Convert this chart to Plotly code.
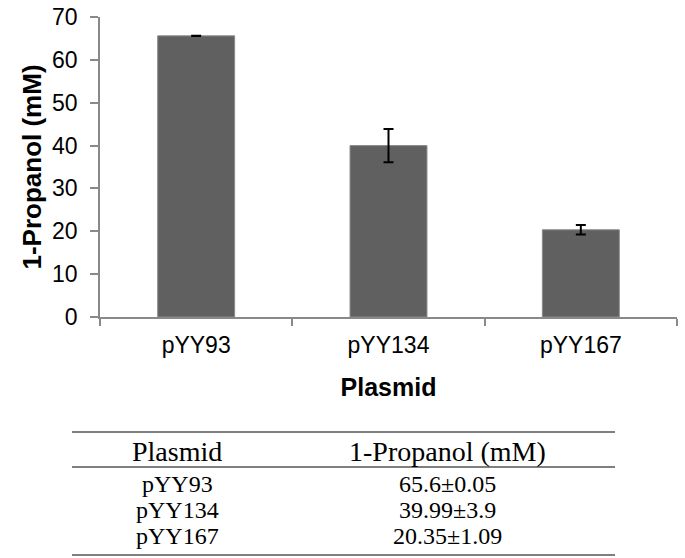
import plotly.graph_objects as go

plasmids = ["pYY93", "pYY134", "pYY167"]
propanol = [65.6, 39.99, 20.35]
errors = [0.05, 3.9, 1.09]
table_header = ["Plasmid", "1-Propanol (mM)"]
table_values = ["65.6±0.05", "39.99±3.9", "20.35±1.09"]
y_ticks = [0, 10, 20, 30, 40, 50, 60, 70]

W, H = 685, 558
L, R, T, B = 100, 8, 17, 241
pw, ph = W - L - R, H - T - B

def px(x):
    return (x - L) / pw

def py(y):
    return (H - B - y) / ph

fig = go.Figure()
fig.add_trace(go.Bar(
    x=plasmids, y=propanol,
    marker=dict(color="#606060", line=dict(color="#8a8a8a", width=1)),
    error_y=dict(type="data", array=errors, visible=True,
                 color="black", thickness=2, width=5),
    width=0.4,
))

sans = "Arial, Liberation Sans, sans-serif"
serif = "Times New Roman, Liberation Serif, serif"

fig.update_layout(
    width=W, height=H,
    margin=dict(l=L, r=R, t=T, b=B, pad=0, autoexpand=False),
    plot_bgcolor="white", paper_bgcolor="white",
    showlegend=False,
    font=dict(family=sans, size=23, color="black"),
    xaxis=dict(
        range=[-0.5, 2.5], showline=True, linecolor="#898989", linewidth=1.5,
        ticks="outside", tickson="boundaries", ticklen=7, tickcolor="#898989",
        tickwidth=1.5, tickfont=dict(size=23, family=sans), automargin=False,
        ticklabelstandoff=7,
        title=dict(text="<b>Plasmid</b>", font=dict(size=25, family=sans), standoff=21),
        showgrid=False, zeroline=False, fixedrange=True,
    ),
    yaxis=dict(
        range=[0, 70], tickvals=y_ticks, showline=True, linecolor="#898989",
        linewidth=1.5, ticks="outside", ticklen=8, tickcolor="#898989", tickwidth=1.5,
        tickfont=dict(size=23, family=sans), ticklabelstandoff=8, automargin=False,
        title=dict(text="<b>1-Propanol (mM)</b>", font=dict(size=26, family=sans), standoff=3),
        showgrid=False, zeroline=False, fixedrange=True,
    ),
)

# table rules
rule = dict(color="#555555", width=1.5)
for yy in [432, 467, 555]:
    fig.add_shape(type="line", xref="paper", yref="paper",
                  x0=px(72), x1=px(615), y0=py(yy), y1=py(yy), line=rule)

col_x = [px(177), px(447)]
row_y = [py(484), py(510), py(536)]
for cx, txt in zip(col_x, table_header):
    fig.add_annotation(text=txt, x=cx, y=py(451), xref="paper", yref="paper",
                       showarrow=False, xanchor="center", yanchor="middle",
                       font=dict(family=serif, size=28, color="black"))
for ry, p, v in zip(row_y, plasmids, table_values):
    fig.add_annotation(text=p, x=col_x[0], y=ry, xref="paper", yref="paper",
                       showarrow=False, xanchor="center", yanchor="middle",
                       font=dict(family=serif, size=24, color="black"))
    fig.add_annotation(text=v, x=col_x[1], y=ry, xref="paper", yref="paper",
                       showarrow=False, xanchor="center", yanchor="middle",
                       font=dict(family=serif, size=24, color="black"))

fig.write_html("out.html", config={"displayModeBar": False},
               post_script="document.body.style.margin='0';document.body.style.overflow='hidden';")
